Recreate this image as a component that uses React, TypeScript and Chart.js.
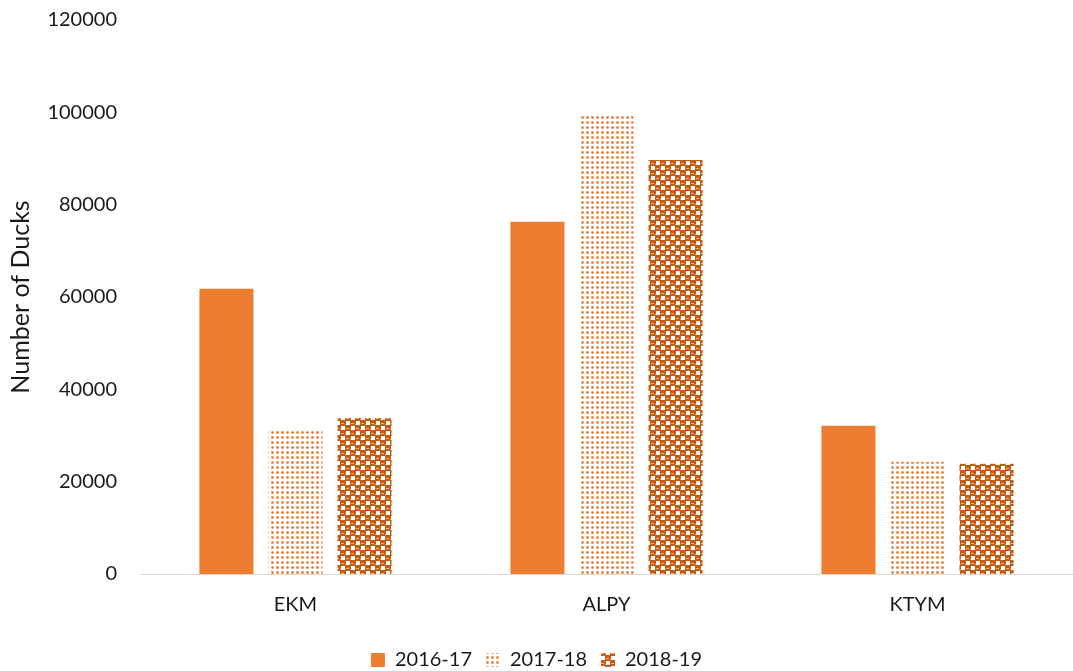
import React, { useEffect, useRef } from "react";
import { Chart, registerables } from "chart.js";

Chart.register(...registerables);

const categories = ["EKM", "ALPY", "KTYM"];
const seriesLabels = ["2016-17", "2017-18", "2018-19"];
const values2016 = [61800, 76300, 32100];
const values2017 = [31000, 99500, 24300];
const values2018 = [33800, 89700, 23900];
const yTicks = [0, 20000, 40000, 60000, 80000, 100000, 120000];

function makeDotPattern(): CanvasPattern | string {
  const c = document.createElement("canvas");
  c.width = 5;
  c.height = 5;
  const g = c.getContext("2d");
  if (!g) return "#F4B183";
  g.fillStyle = "#ffffff";
  g.fillRect(0, 0, 5, 5);
  g.fillStyle = "#F6BE98";
  g.fillRect(1, 1, 3, 3);
  g.fillStyle = "#E97A36";
  g.fillRect(2, 2, 1, 1);
  g.fillStyle = "#EF985F";
  g.fillRect(2, 1, 1, 1);
  g.fillRect(1, 2, 1, 1);
  g.fillRect(3, 2, 1, 1);
  g.fillRect(2, 3, 1, 1);
  const p = g.createPattern(c, "repeat");
  return p || "#F4B183";
}

function makeCheckPattern(): CanvasPattern | string {
  const s = 10;
  const c = document.createElement("canvas");
  c.width = s;
  c.height = s;
  const g = c.getContext("2d");
  if (!g) return "#C55A11";
  g.fillStyle = "#ffffff";
  g.fillRect(0, 0, s, s);
  g.fillStyle = "#C55A11";
  g.fillRect(0, 0, 6, 6);
  g.fillRect(5, 5, 6, 6);
  g.fillRect(-1, 5, 2, 6);
  g.fillRect(5, -1, 6, 2);
  g.fillStyle = "#F0B48A";
  g.fillRect(1, 3, 3, 1);
  g.fillRect(6, 8, 3, 1);
  g.fillStyle = "#E8A070";
  g.fillRect(5, 4, 1, 1);
  g.fillRect(0, 9, 1, 1);
  const p = g.createPattern(c, "repeat");
  return p || "#C55A11";
}

export default function App() {
  const ref = useRef<HTMLCanvasElement | null>(null);

  useEffect(() => {
    if (!ref.current) return;
    const dot = makeDotPattern();
    const check = makeCheckPattern();
    const family = "Lato, 'Open Sans', sans-serif";
    const font = { family, size: 20 };
    const chart = new Chart(ref.current, {
      type: "bar",
      data: {
        labels: categories,
        datasets: [
          { label: seriesLabels[0], data: values2016, backgroundColor: "#ED7D31", borderWidth: 0 },
          { label: seriesLabels[1], data: values2017, backgroundColor: dot as any, borderWidth: 0 },
          { label: seriesLabels[2], data: values2018, backgroundColor: check as any, borderWidth: 0 },
        ],
      },
      options: {
        animation: false,
        responsive: true,
        maintainAspectRatio: false,
        layout: { padding: { top: 20, right: 0, bottom: -9, left: 0 } },
        datasets: {
          bar: { categoryPercentage: 0.666, barPercentage: 0.783 },
        },
        plugins: {
          tooltip: { enabled: false },
          legend: {
            position: "bottom",
            labels: {
              color: "#1a1a1a",
              font,
              boxWidth: 14,
              boxHeight: 14,
              padding: 14,
            },
          },
        },
        scales: {
          x: {
            grid: { display: false, drawTicks: false },
            border: { display: true, color: "#D9D9D9", width: 1 },
            ticks: { color: "#1a1a1a", font, padding: 19 },
          },
          y: {
            min: 0,
            max: 120000,
            afterBuildTicks: (scale: any) => {
              scale.ticks = yTicks.map((v) => ({ value: v }));
            },
            afterFit: (scale: any) => {
              scale.width = 140;
              scale.paddingTop = 0;
              scale.paddingBottom = 0;
            },
            grid: { display: false, drawTicks: false },
            border: { display: false },
            ticks: {
              color: "#1a1a1a",
              font,
              padding: 23,
              callback: (v: any) => String(v),
            },
            title: {
              display: true,
              text: "Number of Ducks",
              color: "#1a1a1a",
              font: { family, size: 25 },
              padding: { top: 6, bottom: 0 },
            },
          },
        },
      },
    });
    return () => chart.destroy();
  }, []);

  return (
    <div style={{ position: "fixed", left: 0, top: 0, width: 1073, height: 671, background: "#fff" }}>
      <canvas ref={ref} />
    </div>
  );
}
